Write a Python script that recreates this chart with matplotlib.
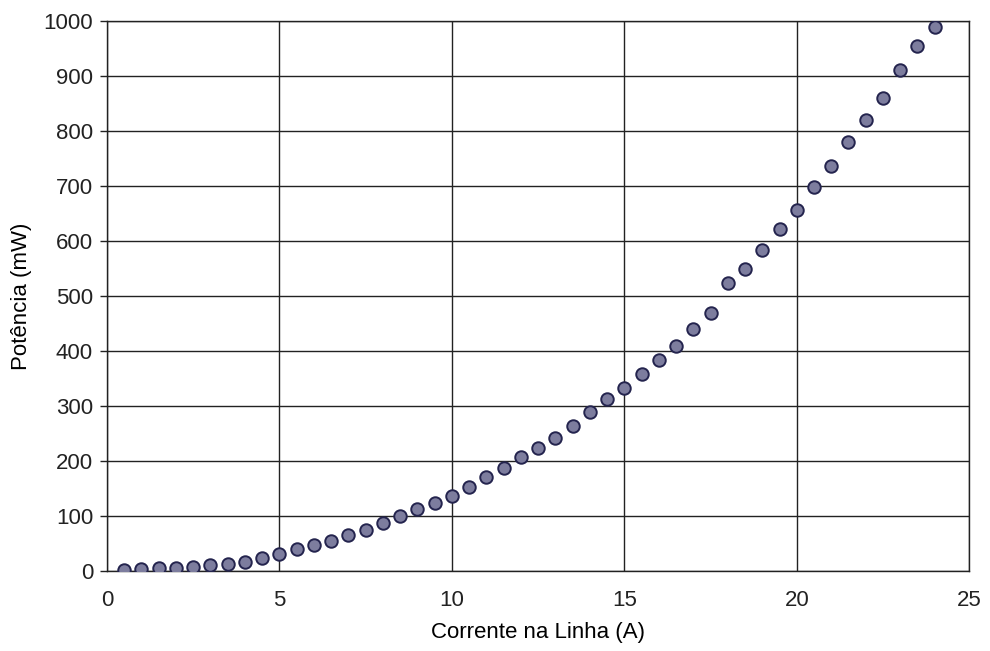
import matplotlib.pyplot as plt

plt.rcParams["font.family"] = ["Liberation Sans", "DejaVu Sans"]

# corrente na linha (A) e potência medida (mW)
corrente = [0.5, 1.0, 1.5, 2.0, 2.5, 3.0, 3.5, 4.0, 4.5, 5.0,
            5.5, 6.0, 6.5, 7.0, 7.5, 8.0, 8.5, 9.0, 9.5, 10.0,
            10.5, 11.0, 11.5, 12.0, 12.5, 13.0, 13.5, 14.0, 14.5, 15.0,
            15.5, 16.0, 16.5, 17.0, 17.5, 18.0, 18.5, 19.0, 19.5, 20.0,
            20.5, 21.0, 21.5, 22.0, 22.5, 23.0, 23.5, 24.0]
potencia = [2, 3, 5, 6, 8, 11, 13, 17, 23, 31,
            40, 48, 55, 65, 75, 87, 99, 112, 124, 137,
            153, 170, 188, 207, 223, 242, 264, 289, 312, 332,
            358, 384, 409, 440, 469, 523, 548, 584, 621, 657,
            698, 737, 780, 820, 860, 911, 955, 989]

x_ticks = [0, 5, 10, 15, 20, 25]
y_ticks = list(range(0, 1001, 100))

fig = plt.figure(figsize=(9.9, 6.51), dpi=100)
ax = fig.add_axes([0.108, 0.123, 0.871, 0.845])

ax.plot(corrente, potencia, linestyle="none", marker="o", markersize=9,
        markerfacecolor="#7d7d9e", markeredgecolor="#24244e",
        markeredgewidth=1.4, zorder=3)

ax.set_xlim(0, 25)
ax.set_ylim(0, 1000)
ax.set_xticks(x_ticks)
ax.set_yticks(y_ticks)
ax.grid(True, color="#222222", linewidth=1.0)
ax.set_axisbelow(True)

for side in ax.spines.values():
    side.set_color("#222222")
    side.set_linewidth(1.0)

ax.tick_params(axis="both", direction="out", length=5, width=1,
               colors="#222222", labelsize=16, pad=5)
ax.tick_params(axis="x", length=0, pad=14)

ax.set_xlabel("Corrente na Linha (A)", fontsize=16, labelpad=8)
ax.set_ylabel("Potência (mW)", fontsize=16, labelpad=8)

fig.savefig("out.png", dpi=100)
